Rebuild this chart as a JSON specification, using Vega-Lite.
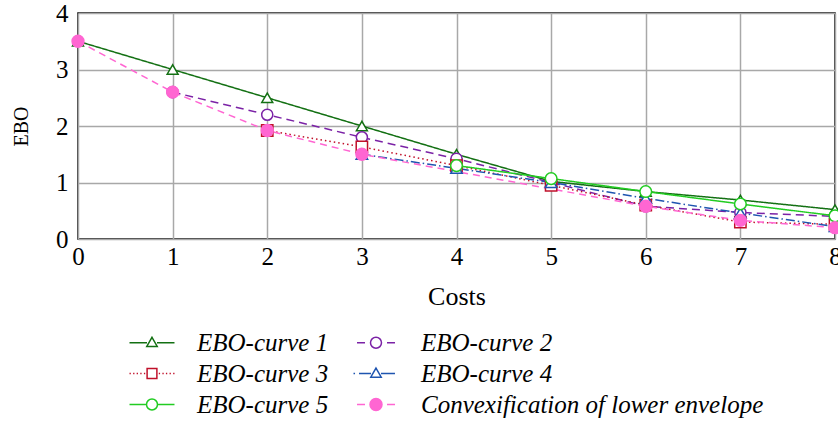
{
  "$schema": "https://vega.github.io/schema/vega-lite/v6.json",
  "width": 757,
  "height": 226,
  "autosize": {"type": "none"},
  "padding": {"left": 78, "top": 13, "right": 3, "bottom": 182},
  "background": "white",
  "config": {
    "view": {"stroke": "black", "strokeWidth": 1.5},
    "font": "Liberation Serif",
    "axis": {
      "labelFont": "Liberation Serif",
      "labelFontSize": 25,
      "labelColor": "black",
      "titleFont": "Liberation Serif",
      "titleFontWeight": "normal",
      "titleColor": "black",
      "ticks": false,
      "domain": false,
      "gridColor": "#a8a8a8",
      "gridWidth": 1.5,
      "gridOpacity": 1
    },
    "legend": {
      "labelFont": "Liberation Serif",
      "labelFontStyle": "italic",
      "labelFontSize": 25,
      "labelColor": "black",
      "labelLimit": 500
    }
  },
  "data": {
    "values": [
      {"curve": "EBO-curve 1", "cost": 0, "ebo": 3.5},
      {"curve": "EBO-curve 1", "cost": 1, "ebo": 3.0},
      {"curve": "EBO-curve 1", "cost": 2, "ebo": 2.5},
      {"curve": "EBO-curve 1", "cost": 3, "ebo": 2.0},
      {"curve": "EBO-curve 1", "cost": 4, "ebo": 1.5},
      {"curve": "EBO-curve 1", "cost": 5, "ebo": 1.02},
      {"curve": "EBO-curve 1", "cost": 6, "ebo": 0.84},
      {"curve": "EBO-curve 1", "cost": 7, "ebo": 0.69},
      {"curve": "EBO-curve 1", "cost": 8, "ebo": 0.52},
      {"curve": "EBO-curve 2", "cost": 1, "ebo": 2.6},
      {"curve": "EBO-curve 2", "cost": 2, "ebo": 2.2},
      {"curve": "EBO-curve 2", "cost": 3, "ebo": 1.8},
      {"curve": "EBO-curve 2", "cost": 4, "ebo": 1.42},
      {"curve": "EBO-curve 2", "cost": 5, "ebo": 1.0},
      {"curve": "EBO-curve 2", "cost": 6, "ebo": 0.58},
      {"curve": "EBO-curve 2", "cost": 7, "ebo": 0.47},
      {"curve": "EBO-curve 2", "cost": 8, "ebo": 0.4},
      {"curve": "EBO-curve 3", "cost": 2, "ebo": 1.92},
      {"curve": "EBO-curve 3", "cost": 3, "ebo": 1.63},
      {"curve": "EBO-curve 3", "cost": 4, "ebo": 1.3},
      {"curve": "EBO-curve 3", "cost": 5, "ebo": 0.95},
      {"curve": "EBO-curve 3", "cost": 6, "ebo": 0.6},
      {"curve": "EBO-curve 3", "cost": 7, "ebo": 0.3},
      {"curve": "EBO-curve 3", "cost": 8, "ebo": 0.26},
      {"curve": "EBO-curve 4", "cost": 3, "ebo": 1.5},
      {"curve": "EBO-curve 4", "cost": 4, "ebo": 1.25},
      {"curve": "EBO-curve 4", "cost": 5, "ebo": 1.0},
      {"curve": "EBO-curve 4", "cost": 6, "ebo": 0.72},
      {"curve": "EBO-curve 4", "cost": 7, "ebo": 0.46},
      {"curve": "EBO-curve 4", "cost": 8, "ebo": 0.22},
      {"curve": "EBO-curve 5", "cost": 4, "ebo": 1.3},
      {"curve": "EBO-curve 5", "cost": 5, "ebo": 1.07},
      {"curve": "EBO-curve 5", "cost": 6, "ebo": 0.84},
      {"curve": "EBO-curve 5", "cost": 7, "ebo": 0.62},
      {"curve": "EBO-curve 5", "cost": 8, "ebo": 0.41},
      {"curve": "Convexification of lower envelope", "cost": 0, "ebo": 3.5},
      {"curve": "Convexification of lower envelope", "cost": 1, "ebo": 2.6},
      {"curve": "Convexification of lower envelope", "cost": 2, "ebo": 1.92},
      {"curve": "Convexification of lower envelope", "cost": 3, "ebo": 1.5},
      {"curve": "Convexification of lower envelope", "cost": 6, "ebo": 0.58},
      {"curve": "Convexification of lower envelope", "cost": 7, "ebo": 0.33},
      {"curve": "Convexification of lower envelope", "cost": 8, "ebo": 0.2}
    ]
  },
  "encoding": {
    "x": {
      "field": "cost", "type": "quantitative",
      "scale": {"domain": [0, 8], "nice": false},
      "axis": {"values": [0,1,2,3,4,5,6,7,8], "title": "Costs", "titleFontSize": 26, "labelPadding": 5, "titlePadding": 14, "labelFlush": false}
    },
    "y": {
      "field": "ebo", "type": "quantitative",
      "scale": {"domain": [0, 4], "nice": false},
      "axis": {"values": [0,1,2,3,4], "title": "EBO", "titleFontSize": 20, "labelPadding": 10, "titlePadding": 24, "labelFlush": false}
    }
  },
  "layer": [
    {
      "mark": {"type": "line", "strokeWidth": 1.5},
      "encoding": {
        "stroke": {
          "field": "curve", "type": "nominal", "legend": null,
          "scale": {
            "domain": ["EBO-curve 1", "EBO-curve 2", "EBO-curve 3", "EBO-curve 4", "EBO-curve 5", "Convexification of lower envelope"],
            "range": ["#137013", "#7b22a6", "#c0102a", "#1f55b0", "#22cc22", "#ff66d2"]
          }
        },
        "strokeDash": {
          "field": "curve", "type": "nominal", "legend": null,
          "scale": {
            "domain": ["EBO-curve 1", "EBO-curve 2", "EBO-curve 3", "EBO-curve 4", "EBO-curve 5", "Convexification of lower envelope"],
            "range": [[1, 0], [8, 5], [1.5, 3], [9, 3, 1.5, 3], [1, 0], [7, 5]]
          }
        }
      }
    },
    {
      "mark": {"type": "point", "filled": true, "strokeWidth": 1.5, "opacity": 1},
      "encoding": {
        "stroke": {
          "field": "curve", "type": "nominal", "legend": null,
          "scale": {
            "domain": ["EBO-curve 1", "EBO-curve 2", "EBO-curve 3", "EBO-curve 4", "EBO-curve 5", "Convexification of lower envelope"],
            "range": ["#137013", "#7b22a6", "#c0102a", "#1f55b0", "#22cc22", "#ff66d2"]
          }
        },
        "fill": {
          "field": "curve", "type": "nominal", "legend": null,
          "scale": {
            "domain": ["EBO-curve 1", "EBO-curve 2", "EBO-curve 3", "EBO-curve 4", "EBO-curve 5", "Convexification of lower envelope"],
            "range": ["white", "white", "white", "white", "white", "#ff66d2"]
          }
        },
        "shape": {
          "field": "curve", "type": "nominal", "legend": null,
          "scale": {
            "domain": ["EBO-curve 1", "EBO-curve 2", "EBO-curve 3", "EBO-curve 4", "EBO-curve 5", "Convexification of lower envelope"],
            "range": ["triangle-up", "circle", "square", "triangle-up", "circle", "circle"]
          }
        },
        "size": {
          "field": "curve", "type": "nominal", "legend": null,
          "scale": {
            "domain": ["EBO-curve 1", "EBO-curve 2", "EBO-curve 3", "EBO-curve 4", "EBO-curve 5", "Convexification of lower envelope"],
            "range": [120, 140, 115, 120, 140, 170]
          }
        }
      }
    },
    {
      "transform": [{"filter": "datum.ebo < 0"}],
      "mark": {"type": "point", "filled": true, "strokeWidth": 1.5},
      "encoding": {
        "stroke": {
          "field": "curve", "type": "nominal",
          "scale": {
            "domain": ["EBO-curve 1", "EBO-curve 3", "EBO-curve 5", "EBO-curve 2", "EBO-curve 4", "Convexification of lower envelope"],
            "range": ["#137013", "#c0102a", "#22cc22", "#7b22a6", "#1f55b0", "#ff66d2"]
          },
          "legend": {"title": null, "orient": "none", "legendX": 50, "legendY": 317, "columns": 2, "columnPadding": 21, "rowPadding": 5, "symbolSize": 484, "symbolStrokeWidth": 1.5, "labelOffset": 44, "symbolOpacity": 1}
        },
        "fill": {
          "field": "curve", "type": "nominal",
          "scale": {
            "domain": ["EBO-curve 1", "EBO-curve 3", "EBO-curve 5", "EBO-curve 2", "EBO-curve 4", "Convexification of lower envelope"],
            "range": ["white", "white", "white", "white", "white", "#ff66d2"]
          },
          "legend": {"title": null, "orient": "none", "legendX": 50, "legendY": 317, "columns": 2, "columnPadding": 21, "rowPadding": 5, "symbolSize": 484, "symbolStrokeWidth": 1.5, "labelOffset": 44, "symbolOpacity": 1}
        },
        "shape": {
          "field": "curve", "type": "nominal",
          "scale": {
            "domain": ["EBO-curve 1", "EBO-curve 3", "EBO-curve 5", "EBO-curve 2", "EBO-curve 4", "Convexification of lower envelope"],
            "range": [
              "M-1,0H0.59M1.5,0H3.09M1.045,-0.49L1.52,0.33L0.57,0.33Z",
              "M-1,0h0.12M-0.67,0h0.12M-0.35,0h0.12M-0.02,0h0.12M0.31,0h0.12M1.66,0h0.12M1.99,0h0.12M2.31,0h0.12M2.64,0h0.12M2.97,0h0.12M0.6,-0.45H1.49V0.45H0.6Z",
              "M-1,0H0.545M1.545,0H3.09M1.545,0A0.5,0.5 0 1,1 0.545,0A0.5,0.5 0 1,1 1.545,0Z",
              "M-0.68,0H0.045M2.045,0H2.77M1.545,0A0.5,0.5 0 1,1 0.545,0A0.5,0.5 0 1,1 1.545,0Z",
              "M-1,0H-0.86M-0.5,0H0.59M1.5,0H2.77M1.045,-0.49L1.52,0.33L0.57,0.33Z",
              "M-0.68,0H0.045M2.045,0H2.77M1.59,0A0.545,0.545 0 1,1 0.5,0A0.545,0.545 0 1,1 1.59,0Z"
            ]
          },
          "legend": {"title": null, "orient": "none", "legendX": 50, "legendY": 317, "columns": 2, "columnPadding": 21, "rowPadding": 5, "symbolSize": 484, "symbolStrokeWidth": 1.5, "labelOffset": 44, "symbolOpacity": 1}
        }
      }
    }
  ],
  "resolve": {
    "scale": {"stroke": "independent", "fill": "independent", "shape": "independent", "strokeDash": "independent", "size": "independent"}
  }
}
